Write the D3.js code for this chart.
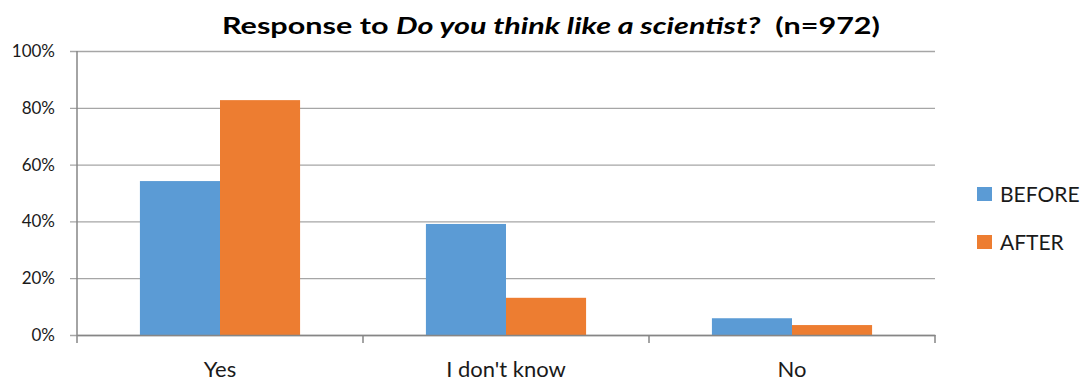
<!DOCTYPE html>
<html>
<head>
<meta charset="utf-8">
<script src="https://cdn.jsdelivr.net/npm/d3@7"></script>
<style>
  html, body { margin: 0; padding: 0; background: #fff; }
  svg { display: block; font-family: Lato, "Open Sans", sans-serif; }
</style>
</head>
<body>
<svg id="chart" width="1088" height="381"></svg>
<script>
// Survey responses, share of respondents (%)
const categories = ["Yes", "I don't know", "No"];
const seriesNames = ["BEFORE", "AFTER"];
const beforeValues = [54.2, 39.1, 5.9];
const afterValues = [82.7, 13.1, 3.5];
const yTicks = [0, 20, 40, 60, 80, 100];
const colors = ["#5B9BD5", "#ED7D31"];

const svg = d3.select("#chart");
const plot = { left: 77, right: 935, top: 51, bottom: 335 };

const x = d3.scaleBand().domain(categories).range([plot.left, plot.right]);
const xInner = d3.scaleBand().domain(seriesNames)
  .range([0, x.bandwidth()]).paddingOuter(0.7857).paddingInner(0);
const y = d3.scaleLinear().domain([0, 100]).range([plot.bottom, plot.top]);

const rows = categories.map((c, i) => ({ cat: c, vals: [beforeValues[i], afterValues[i]] }));

// Horizontal gridlines with tick labels
const yAxis = d3.axisLeft(y).tickValues(yTicks).tickFormat(d => d + "%")
  .tickSize(-(plot.right - plot.left) - 7).tickPadding(15);
const gy = svg.append("g").attr("transform", `translate(${plot.left - 7},0)`).call(yAxis);
gy.select(".domain").remove();
gy.selectAll(".tick line").attr("stroke", "#A6A6A6").attr("stroke-width", 1.3);
gy.selectAll(".tick text").attr("fill", "#1a1a1a").attr("font-size", 17)
  .attr("font-family", "Lato, sans-serif");

// Bars
const groups = svg.append("g").selectAll("g").data(rows).join("g")
  .attr("transform", d => `translate(${x(d.cat)},0)`);
groups.selectAll("rect").data(d => d.vals.map((v, i) => ({ v, s: seriesNames[i], i })))
  .join("rect")
  .attr("x", d => xInner(d.s))
  .attr("width", xInner.bandwidth())
  .attr("y", d => y(d.v))
  .attr("height", d => y(0) - y(d.v))
  .attr("fill", d => colors[d.i]);

// Axis lines
svg.append("line").attr("x1", plot.left).attr("x2", plot.left)
  .attr("y1", plot.top).attr("y2", plot.bottom + 8)
  .attr("stroke", "#868686").attr("stroke-width", 1.5);
const xAxis = d3.axisBottom(x).tickSize(0).tickPadding(0);
const gx = svg.append("g").attr("transform", `translate(0,${plot.bottom})`).call(xAxis);
gx.select(".domain").attr("stroke", "#868686").attr("stroke-width", 1.5);
gx.selectAll(".tick text").attr("fill", "#1a1a1a").attr("font-size", 22)
  .attr("font-family", "Lato, sans-serif")
  .attr("dy", null).attr("y", 42);
// category separators
const seps = categories.map(c => x(c) + x.bandwidth());
svg.append("g").selectAll("line").data(seps).join("line")
  .attr("x1", d => d).attr("x2", d => d)
  .attr("y1", plot.bottom).attr("y2", plot.bottom + 8)
  .attr("stroke", "#868686").attr("stroke-width", 1.5);

// Title
const title = svg.append("text").attr("x", 551).attr("y", 34)
  .attr("text-anchor", "middle").attr("font-weight", "bold")
  .attr("font-size", 23.5).attr("fill", "#000")
  .attr("textLength", 658).attr("lengthAdjust", "spacingAndGlyphs")
  .style("white-space", "pre");
title.append("tspan").text("Response to ");
title.append("tspan").attr("font-style", "italic").text("Do you think like a scientist?");
title.append("tspan").text("  (n=972)");

// Legend
const legend = svg.append("g").selectAll("g").data(seriesNames).join("g")
  .attr("transform", (d, i) => `translate(977,${187 + i * 48})`);
legend.append("rect").attr("width", 15).attr("height", 14)
  .attr("fill", (d, i) => colors[i]);
legend.append("text").attr("x", 23).attr("y", 14.5)
  .attr("font-size", 21).attr("fill", "#1a1a1a").text(d => d);
</script>
</body>
</html>
